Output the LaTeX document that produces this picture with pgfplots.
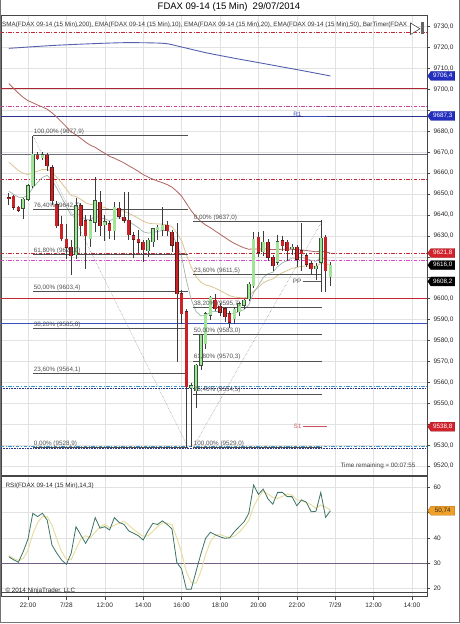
\documentclass[border=0pt]{standalone}
\usepackage{graphicx}
\usepackage{pgfplots}
\pgfplotsset{compat=1.18}
\usepackage{pgfplotstable}
\usepackage{fontspec}
\setmainfont{Liberation Sans}
\usetikzlibrary{shapes.symbols}

\definecolor{candleRed}{RGB}{200,36,40}
\definecolor{candleRedEdge}{RGB}{95,25,25}
\definecolor{candleGreen}{RGB}{160,228,152}
\definecolor{candleGreenEdge}{RGB}{55,85,55}
\definecolor{wick}{RGB}{60,60,60}
\definecolor{smaBlue}{RGB}{85,95,175}
\definecolor{emaFifty}{RGB}{175,100,95}
\definecolor{emaTwenty}{RGB}{218,195,145}
\definecolor{emaTen}{RGB}{160,178,172}
\definecolor{lvlRed}{RGB}{195,40,55}
\definecolor{lvlPink}{RGB}{195,70,150}
\definecolor{lvlMagenta}{RGB}{215,70,205}
\definecolor{lvlNavy}{RGB}{40,50,140}
\definecolor{lvlBlue}{RGB}{60,80,185}
\definecolor{lvlCyan}{RGB}{55,150,205}
\definecolor{lvlGray}{RGB}{110,110,125}
\definecolor{fibGray}{RGB}{80,80,80}
\definecolor{gridGray}{RGB}{226,226,226}
\definecolor{frameGray}{RGB}{70,70,70}
\definecolor{rsiLine}{RGB}{60,115,100}
\definecolor{rsiSignal}{RGB}{232,222,160}
\definecolor{rsiThirty}{RGB}{110,95,130}
\definecolor{flagOrange}{RGB}{240,160,40}
\definecolor{flagBlue}{RGB}{35,45,190}
\definecolor{flagRed}{RGB}{210,35,45}

% 15-minute bars: index, open, high, low, close
\pgfplotstableread{
i O H L C
0 9648.3 9650.5 9645.0 9648.0
1 9649.0 9649.8 9642.5 9643.7
2 9643.7 9644.5 9641.5 9642.3
3 9643.3 9648.0 9638.1 9647.6
4 9647.6 9654.8 9646.5 9654.0
5 9654.0 9677.9 9653.0 9669.0
6 9668.6 9670.2 9666.5 9667.0
7 9667.5 9670.2 9666.5 9669.0
8 9668.6 9669.5 9661.0 9663.5
9 9662.7 9664.0 9645.0 9646.8
10 9645.0 9646.5 9634.0 9634.9
11 9635.7 9639.7 9627.5 9628.6
12 9628.6 9635.7 9619.0 9624.6
13 9624.6 9628.0 9611.4 9620.6
14 9621.0 9648.0 9619.0 9644.4
15 9644.4 9646.0 9630.0 9634.9
16 9637.3 9640.0 9614.3 9630.0
17 9628.6 9640.0 9625.0 9637.3
18 9636.5 9658.0 9632.0 9646.8
19 9646.0 9651.6 9630.0 9634.9
20 9635.2 9640.0 9627.8 9636.8
21 9635.7 9637.0 9628.6 9632.5
22 9632.5 9646.3 9628.0 9643.7
23 9643.2 9646.3 9638.0 9639.4
24 9638.9 9650.8 9636.0 9637.6
25 9637.6 9650.8 9627.8 9630.5
26 9630.1 9632.0 9619.4 9628.6
27 9628.6 9633.0 9622.0 9627.0
28 9627.0 9628.0 9617.5 9623.5
29 9623.0 9629.0 9620.0 9627.8
30 9627.3 9634.0 9625.0 9633.3
31 9633.0 9635.0 9628.0 9634.0
32 9633.0 9643.7 9630.0 9635.0
33 9635.2 9637.0 9630.0 9632.5
34 9631.8 9633.0 9622.2 9625.4
35 9627.0 9636.5 9570.0 9602.4
36 9602.4 9604.0 9588.0 9592.9
37 9593.7 9595.0 9528.9 9558.0
38 9557.5 9560.0 9529.0 9558.5
39 9556.0 9569.0 9547.6 9568.2
40 9568.2 9583.0 9566.0 9582.5
41 9578.6 9593.5 9576.0 9592.9
42 9592.1 9601.5 9590.0 9600.8
43 9599.2 9602.4 9594.0 9595.2
44 9596.5 9598.0 9592.0 9593.5
45 9595.2 9596.0 9589.0 9591.3
46 9592.9 9594.0 9586.0 9588.9
47 9590.5 9596.0 9588.0 9595.2
48 9593.7 9598.5 9592.0 9597.6
49 9596.8 9600.0 9595.0 9599.2
50 9600.0 9608.0 9599.0 9607.1
51 9606.3 9631.8 9605.0 9628.6
52 9629.4 9632.0 9620.0 9622.2
53 9622.5 9632.5 9620.5 9627.0
54 9627.0 9628.5 9618.0 9619.9
55 9619.9 9621.0 9613.5 9615.9
56 9617.5 9630.5 9616.0 9627.3
57 9627.8 9630.0 9623.0 9625.4
58 9627.0 9628.0 9618.0 9623.0
59 9623.8 9626.0 9621.0 9624.6
60 9624.6 9625.5 9615.0 9619.0
61 9623.0 9636.0 9613.0 9621.4
62 9620.6 9622.0 9615.0 9616.7
63 9616.7 9618.0 9612.0 9614.3
64 9614.5 9617.0 9609.0 9615.5
65 9617.5 9637.5 9603.2 9628.9
66 9629.4 9630.5 9603.0 9613.5
67 9610.5 9617.5 9606.3 9616.0
}\candles

% moving averages per bar
\pgfplotstableread{
i ema10 ema20 ema50
0 9651.3 9665.2 9702.8
1 9649.9 9663.2 9700.5
2 9648.5 9661.2 9698.2
3 9648.3 9659.9 9696.2
4 9649.4 9659.3 9694.6
5 9652.9 9660.2 9693.6
6 9655.5 9660.9 9692.5
7 9657.9 9661.7 9691.6
8 9658.9 9661.8 9690.5
9 9656.7 9660.4 9688.8
10 9652.8 9658.0 9686.7
11 9648.4 9655.2 9684.4
12 9644.0 9652.3 9682.1
13 9639.8 9649.3 9679.7
14 9640.6 9648.8 9678.3
15 9639.6 9647.5 9676.6
16 9637.8 9645.8 9674.8
17 9637.7 9645.0 9673.3
18 9639.4 9645.2 9672.3
19 9638.6 9644.2 9670.8
20 9638.2 9643.5 9669.5
21 9637.2 9642.5 9668.0
22 9638.4 9642.6 9667.1
23 9638.6 9642.3 9666.0
24 9638.4 9641.8 9664.9
25 9636.9 9640.7 9663.5
26 9635.4 9639.6 9662.2
27 9633.9 9638.4 9660.8
28 9632.0 9637.0 9659.3
29 9631.3 9636.1 9658.1
30 9631.6 9635.8 9657.1
31 9632.1 9635.7 9656.2
32 9632.6 9635.6 9655.4
33 9632.6 9635.3 9654.5
34 9631.3 9634.4 9653.3
35 9626.0 9631.3 9651.3
36 9620.0 9627.7 9649.0
37 9608.7 9621.0 9645.5
38 9599.6 9615.1 9642.0
39 9593.9 9610.6 9639.2
40 9591.8 9607.9 9636.9
41 9592.0 9606.5 9635.2
42 9593.6 9606.0 9633.9
43 9593.9 9605.0 9632.3
44 9593.8 9603.9 9630.8
45 9593.4 9602.7 9629.3
46 9592.5 9601.4 9627.7
47 9593.0 9600.8 9626.4
48 9593.9 9600.5 9625.3
49 9594.8 9600.4 9624.3
50 9597.1 9601.0 9623.6
51 9602.8 9603.6 9623.8
52 9606.3 9605.4 9623.7
53 9610.1 9607.5 9623.8
54 9611.9 9608.7 9623.7
55 9612.6 9609.4 9623.4
56 9615.3 9611.1 9623.5
57 9617.1 9612.4 9623.6
58 9618.2 9613.4 9623.6
59 9619.4 9614.5 9623.6
60 9619.3 9614.9 9623.4
61 9619.7 9615.5 9623.3
62 9619.1 9615.6 9623.0
63 9618.3 9615.5 9622.7
64 9617.8 9615.5 9622.4
65 9619.8 9616.8 9622.7
66 9618.7 9616.5 9622.3
67 9618.2 9616.4 9621.8
}\emas

% RSI(14,3) and its signal line
\pgfplotstableread{
i rsi sig
0 32.5 33.0
1 31.3 31.8
2 30.3 31.0
3 34.5 31.8
4 39.5 35.0
5 49.7 41.5
6 48.4 46.0
7 49.7 48.4
8 47.0 48.4
9 37.1 45.0
10 33.9 39.5
11 31.2 34.5
12 29.5 31.5
13 33.9 31.3
14 44.4 35.5
15 41.1 39.5
16 37.8 40.8
17 41.1 40.0
18 48.0 42.2
19 43.8 44.3
20 44.4 45.3
21 43.1 44.0
22 48.0 45.0
23 46.1 45.8
24 45.3 46.5
25 42.7 45.0
26 41.8 43.3
27 40.8 41.8
28 39.1 40.6
29 42.7 40.8
30 45.7 42.5
31 45.3 44.5
32 46.7 45.9
33 45.3 45.8
34 43.5 45.2
35 30.3 40.0
36 27.6 34.0
37 19.6 26.5
38 19.6 22.3
39 26.6 22.0
40 33.5 26.6
41 39.8 33.3
42 42.2 38.5
43 41.2 41.0
44 40.4 41.3
45 39.8 40.6
46 40.0 40.1
47 42.4 40.7
48 44.4 42.2
49 46.3 44.4
50 49.7 46.8
51 60.9 52.3
52 57.2 55.9
53 59.3 58.6
54 55.4 57.3
55 53.3 56.0
56 58.0 55.6
57 58.0 56.4
58 56.3 57.4
59 56.3 56.9
60 52.7 55.1
61 55.0 54.7
62 54.1 53.9
63 50.3 53.1
64 50.5 51.6
65 58.0 53.0
66 48.1 52.2
67 50.7 51.0
}\rsidata

\tikzset{
  dashdot/.style={dash pattern=on 3.5pt off 1.5pt on 1pt off 1.5pt},
  pflag/.style={signal, signal to=west, signal pointer angle=110, fill=#1,
    draw=#1!70!black, line width=0.3pt, text=white,
    font=\fontsize{6.3}{7}\selectfont, inner xsep=1pt, inner ysep=0.8pt,
    minimum height=9pt, minimum width=27pt, anchor=west, xshift=0.6pt},
  fibline/.style={fibGray, line width=0.6pt},
  fiblabel/.style={anchor=south west, inner sep=0.6pt, text=fibGray,
    font=\fontsize{6.3}{7}\selectfont},
  small/.style={font=\fontsize{6.3}{7.5}\selectfont},
}
\newcommand\hlevel[2]{\addplot[#1] coordinates {(-1.625,#2) (87.125,#2)};}

\begin{document}
\begin{tikzpicture}
\useasboundingbox (0pt,0pt) rectangle (460pt,624pt);

% ---------- price panel ----------
\begin{axis}[
  at={(1pt,148.5pt)}, anchor=south west, scale only axis,
  width=426pt, height=460.5pt,
  xmin=-1.625, xmax=87.125, ymin=9515.5, ymax=9735.54,
  clip mode=individual,
  axis line style={frameGray, line width=0.8pt},
  xtick={4,12,...,84}, xticklabels={}, xtick style={draw=none},
  ytick={9520,9530,...,9730}, ytick pos=right, tick align=outside,
  % labels hidden behind the value flags are left blank
  yticklabels={{9520,0},{9530,0},{},{9550,0},{9560,0},{9570,0},{9580,0},{9590,0},
    {9600,0},{},{},{9630,0},{9640,0},{9650,0},{9660,0},{9670,0},{9680,0},{},
    {9700,0},{9710,0},{9720,0},{9730,0}},
  major tick length=3pt, ytick style={frameGray, line width=0.5pt},
  yticklabel style={font=\fontsize{6.5}{7.5}\selectfont, text=black!85},
  grid=major, grid style={gridGray, line width=0.5pt},
]
% horizontal levels
\hlevel{lvlRed, dashdot, line width=0.7pt}{9727.3}
\hlevel{lvlRed!90!black, line width=0.8pt}{9700.3}
\hlevel{lvlPink, dashdot, line width=0.7pt}{9692.1}
\hlevel{lvlNavy, line width=0.8pt}{9687.3}
\hlevel{lvlGray, line width=0.8pt}{9669.0}
\hlevel{lvlRed, dashdot, line width=0.7pt}{9657.0}
\hlevel{lvlRed, dashdot, line width=0.8pt}{9621.8}
\hlevel{lvlMagenta, dashdot, line width=0.7pt}{9618.2}
\hlevel{lvlRed, line width=1pt}{9600.0}
\hlevel{lvlBlue, line width=0.8pt}{9588.2}
\hlevel{lvlNavy, densely dotted, line width=0.6pt}{9557.2}
\hlevel{lvlCyan, dashdot, line width=0.7pt}{9558.2}
\hlevel{lvlNavy, densely dotted, line width=0.6pt}{9528.6}
\hlevel{lvlCyan, dashdot, line width=0.7pt}{9529.5}

% moving averages
\addplot[smaBlue, line width=0.9pt, smooth] coordinates {
 (0,9719.6) (8.6,9720.9) (16,9721.7) (23.8,9722.3) (30,9722.2) (33,9721.8)
 (35.7,9720.4) (38.5,9718.9) (41.3,9717.4) (46.7,9715.0) (52,9712.8)
 (57,9710.7) (62,9708.6) (67,9706.4)};
\addplot[emaFifty, line width=0.8pt] table[x=i, y=ema50] {\emas};
\addplot[emaTwenty, line width=0.8pt] table[x=i, y=ema20] {\emas};
\addplot[emaTen, line width=0.7pt] table[x=i, y=ema10] {\emas};

% Fibonacci retracement, high 9677.9 to low 9528.9
\pgfplotsinvokeforeach{9677.9,9642.7,9621.0,9603.4,9585.8,9564.1,9528.9}{
  \addplot[fibline] coordinates {(5.05,#1) (37.35,#1)};}
\addplot[black!45, densely dotted, line width=0.5pt] coordinates {(5.05,9677.9) (37.35,9528.9)};
% Fibonacci retracement, low 9529.0 to high 9637.0
\pgfplotsinvokeforeach{9637.0,9611.5,9595.7,9583.0,9570.3,9554.5,9529.0}{
  \addplot[fibline] coordinates {(38.4,#1) (65.25,#1)};}
\addplot[black!45, densely dotted, line width=0.5pt] coordinates {(38.4,9529.0) (65.25,9637.0)};

% pivot segments
\addplot[lvlBlue, line width=0.7pt] coordinates {(61.3,9687.3) (66.3,9687.3)};
\addplot[black!65, line width=0.6pt] coordinates {(61.3,9608.2) (65.25,9608.2)};
\addplot[lvlRed!80, line width=0.7pt] coordinates {(61.3,9538.8) (66.3,9538.8)};

% candle wicks
\addplot[draw=none, forget plot, error bars/.cd, y dir=both, y explicit,
  error mark=none, error bar style={draw=wick, line width=0.6pt}]
  table[x=i, y expr={(\thisrow{H}+\thisrow{L})/2},
        y error expr={(\thisrow{H}-\thisrow{L})/2}] {\candles};
% rising bodies
\addplot[draw=none, forget plot,
  restrict expr to domain={\thisrow{C}-\thisrow{O}}{0:1000},
  error bars/.cd, y dir=both, y explicit, error mark=none,
  error bar style={draw=candleGreenEdge, line width=3.6pt}]
  table[x=i, y expr={(\thisrow{O}+\thisrow{C})/2},
        y error expr={abs(\thisrow{C}-\thisrow{O})/2+0.24}] {\candles};
\addplot[draw=none, forget plot,
  restrict expr to domain={\thisrow{C}-\thisrow{O}}{0:1000},
  error bars/.cd, y dir=both, y explicit, error mark=none,
  error bar style={draw=candleGreen, line width=2.6pt}]
  table[x=i, y expr={(\thisrow{O}+\thisrow{C})/2},
        y error expr={abs(\thisrow{C}-\thisrow{O})/2}] {\candles};
% falling bodies
\addplot[draw=none, forget plot,
  restrict expr to domain={\thisrow{O}-\thisrow{C}}{0.001:1000},
  error bars/.cd, y dir=both, y explicit, error mark=none,
  error bar style={draw=candleRedEdge, line width=3.6pt}]
  table[x=i, y expr={(\thisrow{O}+\thisrow{C})/2},
        y error expr={abs(\thisrow{C}-\thisrow{O})/2+0.24}] {\candles};
\addplot[draw=none, forget plot,
  restrict expr to domain={\thisrow{O}-\thisrow{C}}{0.001:1000},
  error bars/.cd, y dir=both, y explicit, error mark=none,
  error bar style={draw=candleRed, line width=2.6pt}]
  table[x=i, y expr={(\thisrow{O}+\thisrow{C})/2},
        y error expr={abs(\thisrow{C}-\thisrow{O})/2}] {\candles};

% Fibonacci labels
\node[fiblabel] at (axis cs:5.05,9677.9) {100,00\% (9677,9)};
\node[fiblabel] at (axis cs:5.05,9642.7) {76,40\% (9642,7)};
\node[fiblabel] at (axis cs:5.05,9621.0) {61,80\% (9621,0)};
\node[fiblabel] at (axis cs:5.05,9603.4) {50,00\% (9603,4)};
\node[fiblabel] at (axis cs:5.05,9585.8) {38,20\% (9585,8)};
\node[fiblabel] at (axis cs:5.05,9564.1) {23,60\% (9564,1)};
\node[fiblabel] at (axis cs:5.05,9528.9) {0,00\% (9528,9)};
\node[fiblabel] at (axis cs:38.4,9637.0) {0,00\% (9637,0)};
\node[fiblabel] at (axis cs:38.4,9611.5) {23,60\% (9611,5)};
\node[fiblabel] at (axis cs:38.4,9595.7) {38,20\% (9595,7)};
\node[fiblabel] at (axis cs:38.4,9583.0) {50,00\% (9583,0)};
\node[fiblabel] at (axis cs:38.4,9570.3) {61,80\% (9570,3)};
\node[fiblabel] at (axis cs:38.4,9554.5) {76,40\% (9554,5)};
\node[fiblabel] at (axis cs:38.4,9529.0) {100,00\% (9529,0)};

% pivot names
\node[small, text=lvlBlue, anchor=east, inner sep=0.5pt] at (axis cs:61.1,9688.3) {R1};
\node[small, text=black!70, anchor=east, inner sep=0.5pt] at (axis cs:61.1,9608.2) {PP};
\node[small, text=lvlRed!75, anchor=east, inner sep=0.5pt] at (axis cs:61.1,9538.8) {S1};

% last-value flags on the price scale
\node[pflag=flagBlue] at (axis cs:87.125,9706.4) {9706,4};
\node[pflag=flagBlue] at (axis cs:87.125,9687.3) {9687,3};
\node[pflag=flagRed] at (axis cs:87.125,9621.8) {9621,8};
\node[pflag=black] at (axis cs:87.125,9616.0) {9616,0};
\node[pflag=black] at (axis cs:87.125,9608.2) {9608,2};
\node[pflag=flagRed] at (axis cs:87.125,9538.8) {9538,8};
\end{axis}

% ---------- RSI panel ----------
\begin{axis}[
  at={(1pt,27.3pt)}, anchor=south west, scale only axis,
  width=426pt, height=120pt,
  xmin=-1.625, xmax=87.125, ymin=16.67, ymax=64.2,
  clip mode=individual,
  axis line style={frameGray, line width=0.8pt},
  xtick={4,12,...,84},
  xticklabels={22:00,7/28,12:00,14:00,16:00,18:00,20:00,22:00,7/29,12:00,14:00},
  xtick pos=bottom, ytick pos=right, tick align=outside,
  ytick={20,30,40,50,60}, yticklabels={20,30,40,{},60},
  major tick length=3pt, tick style={frameGray, line width=0.5pt},
  ticklabel style={font=\fontsize{6.5}{7.5}\selectfont, text=black!85},
  grid=major, grid style={gridGray, line width=0.5pt},
]
\addplot[rsiThirty, line width=0.9pt] coordinates {(-1.625,30) (87.125,30)};
\addplot[frameGray, line width=0.8pt] coordinates {(-1.625,18.4) (87.125,18.4)};
\addplot[rsiSignal, line width=1pt] table[x=i, y=sig] {\rsidata};
\addplot[rsiLine, line width=0.8pt] table[x=i, y=rsi] {\rsidata};
\node[pflag=flagOrange, text=black!85] at (axis cs:87.125,50.74) {50,74};
\end{axis}

% ---------- texts and frame ----------
\node[font=\fontsize{9.5}{11}\selectfont] at (229pt,617pt) {FDAX 09-14 (15 Min)\ \ 29/07/2014};
\node[anchor=west, inner sep=0pt, text=black!80] at (2pt,599.5pt)
  {\resizebox{405pt}{!}{SMA(FDAX 09-14 (15 Min),200), EMA(FDAX 09-14 (15 Min),10), EMA(FDAX 09-14 (15 Min),20), EMA(FDAX 09-14 (15 Min),50), BarTimer(FDAX}};
\draw[black!70, line width=0.6pt, fill=white] (410.5pt,601pt) -- (410.5pt,589.5pt) -- (420pt,595.2pt) -- cycle;
\fill[black!60] (421pt,589.5pt) rectangle (423.5pt,601.5pt);
\node[small, anchor=east, text=black!75] at (419pt,158pt) {Time remaining = 00:07:55};
\node[small, anchor=west, text=black!85] at (2pt,138pt) {RSI(FDAX 09-14 (15 Min),14,3)};
\node[small, anchor=west, text=black!85] at (2pt,33pt) {\textcopyright\ 2014 NinjaTrader, LLC};
\draw[black!55, line width=0.6pt] (0.3pt,624pt) -- (0.3pt,1.8pt) -- (459.2pt,1.8pt) -- (459.2pt,624pt);
\end{tikzpicture}
\end{document}
